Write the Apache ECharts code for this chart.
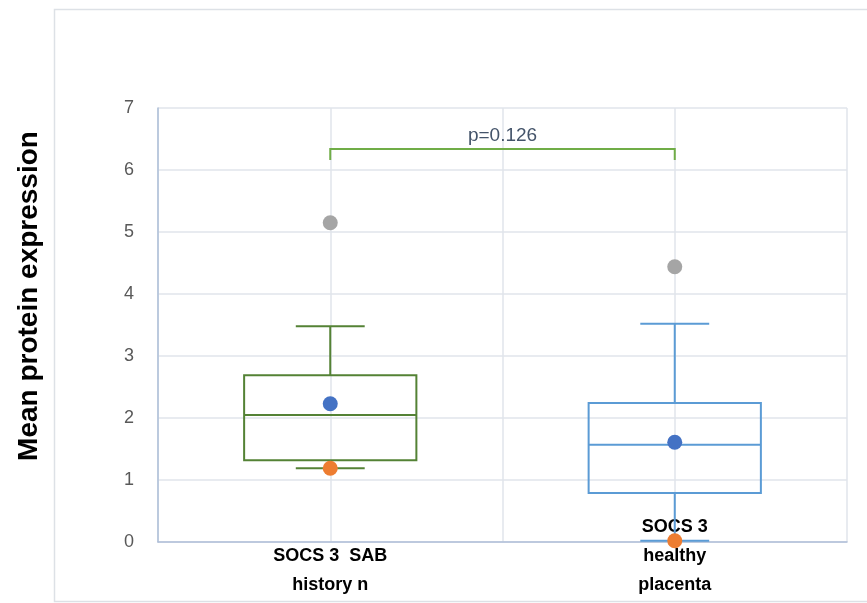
<!DOCTYPE html>
<html>
<head>
<meta charset="utf-8">
<script src="https://cdn.jsdelivr.net/npm/echarts@6/dist/echarts.min.js"></script>
<style>html,body{margin:0;padding:0;background:#fff;}#chart{width:867px;height:603px;}</style>
</head>
<body>
<div id="chart"></div>
<script>
var categories = ['SOCS 3  SAB\nhistory n', 'SOCS 3\nhealthy\nplacenta'];
var whiskerMin = [1.19, 0.02];
var q1 = [1.32, 0.79];
var median = [2.05, 1.57];
var q3 = [2.69, 2.24];
var whiskerMax = [3.48, 3.52];
var means = [2.23, 1.61];
var outlierHigh = [5.15, 4.44];
var outlierLow = [1.19, 0.02];
var bracketTop = 6.34;
var bracketFoot = 6.16;
var pLabel = 'p=0.126';
var yTicks = [0, 1, 2, 3, 4, 5, 6, 7];

var boxColors = ['#548235', '#5B9BD5'];
var FONT = '"Liberation Sans", Arial, sans-serif';

var chart = echarts.init(document.getElementById('chart'), null, {renderer: 'canvas'});

var boxData = categories.map(function (c, i) {
  return [i, whiskerMin[i], q1[i], median[i], q3[i], whiskerMax[i]];
});

function renderBox(params, api) {
  var i = api.value(0);
  var color = boxColors[i];
  var catW = api.size([1, 0])[0];
  var boxW = catW * 0.5;
  var capW = catW * 0.2;
  var pMin = api.coord([i, api.value(1)]);
  var pQ1 = api.coord([i, api.value(2)]);
  var pMed = api.coord([i, api.value(3)]);
  var pQ3 = api.coord([i, api.value(4)]);
  var pMax = api.coord([i, api.value(5)]);
  var x = pMed[0];
  var st = {stroke: color, lineWidth: 2, fill: null};
  return {
    type: 'group',
    children: [
      {type: 'line', shape: {x1: x, y1: pQ3[1], x2: x, y2: pMax[1]}, style: st},
      {type: 'line', shape: {x1: x, y1: pQ1[1], x2: x, y2: pMin[1]}, style: st},
      {type: 'line', shape: {x1: x - capW / 2, y1: pMax[1], x2: x + capW / 2, y2: pMax[1]}, style: st},
      {type: 'line', shape: {x1: x - capW / 2, y1: pMin[1], x2: x + capW / 2, y2: pMin[1]}, style: st},
      {type: 'rect', shape: {x: x - boxW / 2, y: pQ3[1], width: boxW, height: pQ1[1] - pQ3[1]}, style: {stroke: color, lineWidth: 2, fill: 'rgba(0,0,0,0)'}},
      {type: 'line', shape: {x1: x - boxW / 2, y1: pMed[1], x2: x + boxW / 2, y2: pMed[1]}, style: st}
    ]
  };
}

function renderBracket(params, api) {
  var a = api.coord([api.value(0), api.value(3)]);
  var b = api.coord([api.value(0), api.value(2)]);
  var c = api.coord([api.value(1), api.value(2)]);
  var d = api.coord([api.value(1), api.value(3)]);
  return {
    type: 'group',
    children: [
      {type: 'polyline', shape: {points: [a, b, c, d]}, style: {stroke: '#70AD47', lineWidth: 2, fill: null}},
      {type: 'text', x: (b[0] + c[0]) / 2, y: b[1] - 13, style: {text: pLabel, fill: '#44546A', font: '19px ' + FONT, align: 'center', verticalAlign: 'middle'}}
    ]
  };
}

var option = {
  animation: false,
  backgroundColor: '#ffffff',
  grid: {left: 158, right: 20, top: 108, bottom: 61, containLabel: false},
  xAxis: [
    {
      type: 'category',
      data: categories,
      boundaryGap: true,
      axisLine: {show: true, lineStyle: {color: '#AEBFD8', width: 1.5}},
      axisTick: {show: false},
      splitLine: {show: false},
      axisLabel: {
        interval: 0,
        color: '#000000',
        fontFamily: FONT,
        fontWeight: 'bold',
        fontSize: 18,
        lineHeight: 29,
        verticalAlign: 'bottom',
        margin: 58
      },
      z: 1
    },
    {
      type: 'value',
      min: 0, max: 4, interval: 1,
      position: 'bottom',
      axisLine: {show: false},
      axisTick: {show: false},
      axisLabel: {show: false},
      splitLine: {show: true, lineStyle: {color: '#E1E5EB', width: 1.5}},
      z: 0
    }
  ],
  yAxis: {
    type: 'value',
    min: yTicks[0], max: yTicks[yTicks.length - 1], interval: 1,
    axisLine: {show: true, lineStyle: {color: '#AEBFD8', width: 1.5}},
    axisTick: {show: false},
    axisLabel: {color: '#595959', fontFamily: FONT, fontSize: 18, margin: 24},
    splitLine: {show: true, lineStyle: {color: '#E1E5EB', width: 1.5}}
  },
  graphic: [
    {type: 'rect', shape: {x: 54.5, y: 9.5, width: 900, height: 592}, style: {stroke: '#DDE1E6', lineWidth: 1.5, fill: null}, silent: true, z: -1},
    {type: 'text', x: 29, y: 296, rotation: Math.PI / 2, style: {text: 'Mean protein expression', font: 'bold 28px ' + FONT, fill: '#000000', align: 'center', verticalAlign: 'middle'}}
  ],
  series: [
    {type: 'custom', xAxisIndex: 0, renderItem: renderBox, data: boxData, encode: {x: 0, y: [1, 2, 3, 4, 5]}, clip: false, z: 2},
    {type: 'custom', xAxisIndex: 0, renderItem: renderBracket, data: [[0, 1, bracketTop, bracketFoot]], encode: {x: [0, 1], y: [2, 3]}, clip: false, z: 2},
    {type: 'scatter', xAxisIndex: 0, symbolSize: 15, itemStyle: {color: '#4472C4', opacity: 1}, data: means.map(function (v, i) { return [i, v]; }), z: 4},
    {type: 'scatter', xAxisIndex: 0, symbolSize: 15, itemStyle: {color: '#A5A5A5', opacity: 1}, data: outlierHigh.map(function (v, i) { return [i, v]; }), z: 4},
    {type: 'scatter', xAxisIndex: 0, symbolSize: 15, itemStyle: {color: '#ED7D31', opacity: 1}, data: outlierLow.map(function (v, i) { return [i, v]; }), clip: false, z: 4}
  ]
};
chart.setOption(option);
</script>
</body>
</html>
